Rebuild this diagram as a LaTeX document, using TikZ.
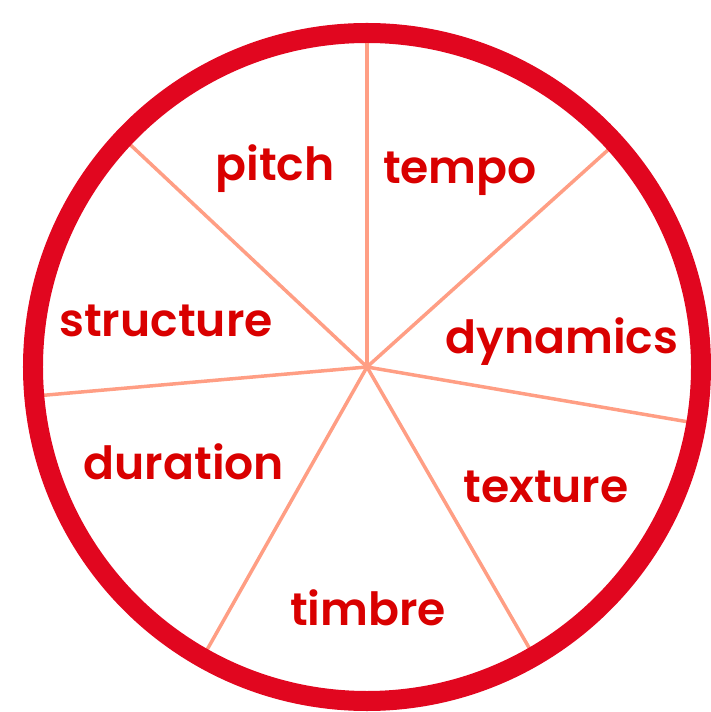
\documentclass[tikz,border=0pt]{standalone}
\usepackage{fontspec}
\setmainfont{Poppins}[BoldFont={* SemiBold}]
\usepackage{xcolor}
\usepackage{tikz}
\usetikzlibrary{positioning}

\definecolor{ringred}{HTML}{E1061F}
\definecolor{labelred}{HTML}{D90000}
\definecolor{spokesalmon}{HTML}{FF9E84}

\tikzset{
	ringline/.style={draw=ringred, line width=0.4cm},
	spoke/.style={draw=spokesalmon, line width=0.07cm},
	lbl/.style={anchor=base, inner sep=0pt, text=labelred, font=\fontsize{26}{30}\selectfont\bfseries}
}

\begin{document}
\begin{tikzpicture}
		\useasboundingbox (-7.34, -6.9) rectangle (6.86, 7.34);
		% Center and spokes:
		\coordinate (c) at (0, 0);
		\foreach \ang/\nm in {90/top, 42/ur, -9.7/rt, -60/lr, 240.5/ll, 185/lf, 136.8/ul}{
			\coordinate (\nm) at (\ang:6.7);
			\draw[spoke] (c) -- (\nm);
		}
		% Outer ring:
		\draw[ringline] (c) circle (6.68);
		% Labels:
		\node[lbl] (pitch) at (-1.84, 3.72) {pitch};
		\node[lbl] (tempo) at (1.86, 3.66) {tempo};
		\node[lbl] (structure) at (-4.02, 0.6) {structure};
		\node[lbl] (dynamics) at (3.9, 0.26) {dynamics};
		\node[lbl] (texture) at (3.58, -2.7) {texture};
		\node[lbl] (duration) at (-3.66, -2.24) {duration};
		\node[lbl] (timbre) at (0.02, -5.16) {timbre};
	\end{tikzpicture}
\end{document}
